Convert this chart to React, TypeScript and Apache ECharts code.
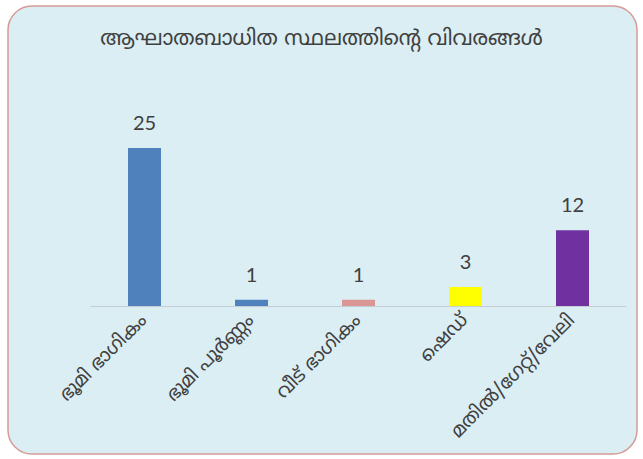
import React, { useEffect, useRef } from "react";
import * as echarts from "echarts";

const titleText = "ആഘാതബാധിത സ്ഥലത്തിന്റെ വിവരങ്ങൾ";
const categories = ["ഭൂമി ഭാഗികം", "ഭൂമി പൂർണ്ണം", "വീട് ഭാഗികം", "ഷെഡ്", "മതിൽ/ഗേറ്റ്/വേലി"];
const values = [25, 1, 1, 3, 12];
const barColors = ["#4f81bd", "#4f81bd", "#d99694", "#ffff00", "#7030a0"];

const mlFont = "'Noto Sans Malayalam', 'Noto Sans', 'DejaVu Sans', sans-serif";

export default function App() {
  const ref = useRef<HTMLDivElement>(null);
  useEffect(() => {
    document.body.style.margin = "0";
    const chart = echarts.init(ref.current!, null, { renderer: "svg" });
    chart.setOption({
      animation: false,
      backgroundColor: "#ffffff",
      graphic: [
        {
          type: "rect",
          z: -10,
          silent: true,
          shape: { x: 8, y: 6, width: 629, height: 448, r: 24 },
          style: { fill: "#dbeef4", stroke: "#d59c96", lineWidth: 1.5 },
        },
      ],
      title: {
        text: titleText,
        left: "center",
        top: 24,
        textStyle: { fontFamily: mlFont, fontSize: 21, fontWeight: "normal", color: "#404040" },
      },
      grid: { left: 91, width: 535, top: 148, height: 158, containLabel: false },
      xAxis: {
        type: "category",
        data: categories,
        axisLine: { show: true, lineStyle: { color: "#c4cdd1", width: 1 } },
        axisTick: { show: false },
        axisLabel: {
          rotate: 45,
          interval: 0,
          margin: 12,
          color: "#404040",
          fontSize: 19,
          fontWeight: "normal",
          fontFamily: mlFont,
        },
      },
      yAxis: {
        type: "value",
        min: 0,
        max: 25,
        show: false,
        splitLine: { show: false },
      },
      series: [
        {
          type: "bar",
          barWidth: 33,
          data: values.map((v, i) => ({ value: v, itemStyle: { color: barColors[i] } })),
          label: {
            show: true,
            position: "top",
            distance: 16,
            color: "#404040",
            fontSize: 20,
            fontFamily: "Lato, 'Open Sans', sans-serif",
          },
        },
      ],
    });
    return () => chart.dispose();
  }, []);
  return <div ref={ref} style={{ width: 643, height: 459 }} />;
}
